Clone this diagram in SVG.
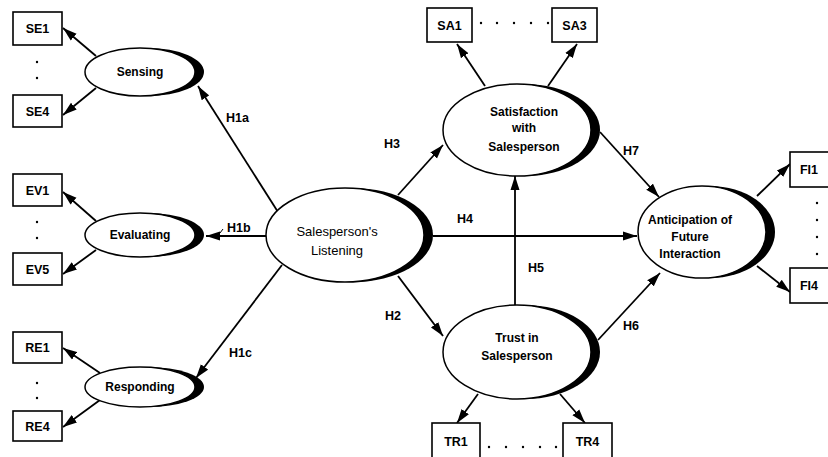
<svg xmlns="http://www.w3.org/2000/svg" width="828" height="457" viewBox="0 0 828 457">
<style>
  .bg { fill: #ffffff; }
  .box { fill: #ffffff; stroke: #000; stroke-width: 1.6; }
  .shadow { fill: #000; }
  .ell { fill: #ffffff; stroke: #000; stroke-width: 1.5; }
  .t { font-family: "Liberation Sans", Arial, sans-serif; font-size: 12px; font-weight: bold; fill: #000; text-anchor: middle; }
  .tl { font-family: "Liberation Sans", Arial, sans-serif; font-size: 13px; font-weight: normal; fill: #000; text-anchor: middle; }
  .bt { font-family: "Liberation Sans", Arial, sans-serif; font-size: 12.5px; font-weight: bold; fill: #000; text-anchor: middle; }
  .h { font-family: "Liberation Sans", Arial, sans-serif; font-size: 12.5px; font-weight: bold; fill: #000; }
  .c { stroke: #000; stroke-width: 1.8; fill: none; marker-end: url(#ah); }
  .dot { fill: #000; }
</style>
<defs>
  <marker id="ah" markerUnits="userSpaceOnUse" markerWidth="15" markerHeight="10" refX="14" refY="5" orient="auto">
    <path d="M0,0.5 L14,5 L0,9.5 Z" fill="#000"/>
  </marker>
</defs>
<rect class="bg" x="0" y="0" width="828" height="457"/>

<g id="connectors">
  <line class="c" x1="278" y1="212" x2="198" y2="86"/>
  <line class="c" x1="266" y1="236" x2="206" y2="236"/>
  <line class="c" x1="282" y1="265" x2="196" y2="378"/>
  <line class="c" x1="398" y1="195" x2="443" y2="145"/>
  <line class="c" x1="398" y1="276" x2="443" y2="336"/>
  <line class="c" x1="433" y1="236" x2="637" y2="236"/>
  <line class="c" x1="515" y1="305" x2="515" y2="176"/>
  <line class="c" x1="600" y1="132" x2="659" y2="197"/>
  <line class="c" x1="598" y1="340" x2="660" y2="273"/>
  <line class="c" x1="485" y1="86" x2="457" y2="44"/>
  <line class="c" x1="548" y1="86" x2="577" y2="44"/>
  <line class="c" x1="478" y1="394" x2="457" y2="423"/>
  <line class="c" x1="560" y1="394" x2="585" y2="423"/>
  <line class="c" x1="757" y1="196" x2="790" y2="164"/>
  <line class="c" x1="757" y1="266" x2="790" y2="292"/>
  <line class="c" x1="96" y1="56" x2="63" y2="28"/>
  <line class="c" x1="96" y1="88" x2="63" y2="115"/>
  <line class="c" x1="96" y1="221" x2="63" y2="192"/>
  <line class="c" x1="96" y1="250" x2="63" y2="274"/>
  <line class="c" x1="100" y1="373" x2="63" y2="348"/>
  <line class="c" x1="100" y1="400" x2="63" y2="427"/>
</g>

<g id="labels">
  <text class="h" x="226" y="122">H1a</text>
  <line x1="220" y1="233" x2="223" y2="229" stroke="#000" stroke-width="1"/>
  <text class="h" x="227" y="232">H1b</text>
  <text class="h" x="229" y="357">H1c</text>
  <text class="h" x="384" y="148">H3</text>
  <text class="h" x="457" y="223">H4</text>
  <text class="h" x="528" y="272">H5</text>
  <text class="h" x="385" y="320">H2</text>
  <text class="h" x="623" y="330">H6</text>
  <text class="h" x="623" y="155">H7</text>
</g>

<g id="SE1"><rect class="box" x="13" y="12" width="49" height="33"/><text class="bt" x="37.5" y="33">SE1</text></g>
<g id="SE4"><rect class="box" x="13" y="95" width="49" height="32"/><text class="bt" x="37.5" y="116">SE4</text></g>
<g id="SE-dots"><circle class="dot" cx="37" cy="62" r="1.2"/><circle class="dot" cx="37" cy="78" r="1.2"/></g>

<g id="EV1"><rect class="box" x="13" y="174" width="49" height="32"/><text class="bt" x="37.5" y="195">EV1</text></g>
<g id="EV5"><rect class="box" x="13" y="253" width="49" height="32"/><text class="bt" x="37.5" y="274">EV5</text></g>
<g id="EV-dots"><circle class="dot" cx="37" cy="222" r="1.2"/><circle class="dot" cx="37" cy="238" r="1.2"/></g>

<g id="RE1"><rect class="box" x="13" y="332" width="49" height="31"/><text class="bt" x="37.5" y="352">RE1</text></g>
<g id="RE4"><rect class="box" x="13" y="411" width="49" height="30"/><text class="bt" x="37.5" y="431">RE4</text></g>
<g id="RE-dots"><circle class="dot" cx="37" cy="383" r="1.2"/><circle class="dot" cx="37" cy="398" r="1.2"/></g>

<g id="Sensing">
  <ellipse class="shadow" cx="148" cy="72" rx="56" ry="24"/>
  <ellipse class="ell" cx="140" cy="72" rx="55" ry="24"/>
  <text class="t" x="140" y="76">Sensing</text>
</g>
<g id="Evaluating">
  <ellipse class="shadow" cx="148" cy="235" rx="56" ry="22"/>
  <ellipse class="ell" cx="140" cy="235" rx="55" ry="22"/>
  <text class="t" x="140" y="239">Evaluating</text>
</g>
<g id="Responding">
  <ellipse class="shadow" cx="148" cy="387" rx="56" ry="20"/>
  <ellipse class="ell" cx="140" cy="387" rx="55" ry="20"/>
  <text class="t" x="140" y="391">Responding</text>
</g>

<g id="Listening">
  <ellipse class="shadow" cx="353" cy="235" rx="80" ry="47"/>
  <ellipse class="ell" cx="345" cy="235" rx="79" ry="47"/>
  <text class="tl" x="337" y="236">Salesperson's</text>
  <text class="tl" x="337" y="255">Listening</text>
</g>

<g id="Satisfaction">
  <ellipse class="shadow" cx="525" cy="130" rx="75" ry="46"/>
  <ellipse class="ell" cx="517" cy="130" rx="74" ry="46"/>
  <text class="t" x="524" y="116">Satisfaction</text>
  <text class="t" x="524" y="132">with</text>
  <text class="t" x="524" y="151">Salesperson</text>
</g>
<g id="SA1"><rect class="box" x="427" y="8" width="45" height="34"/><text class="bt" x="449.5" y="30">SA1</text></g>
<g id="SA3"><rect class="box" x="552" y="8" width="45" height="34"/><text class="bt" x="574.5" y="30">SA3</text></g>
<g id="SA-dots"><circle class="dot" cx="481" cy="23" r="1.2"/><circle class="dot" cx="497" cy="23" r="1.2"/><circle class="dot" cx="514" cy="23" r="1.2"/><circle class="dot" cx="531" cy="23" r="1.2"/><circle class="dot" cx="548" cy="23" r="1.2"/></g>

<g id="Trust">
  <ellipse class="shadow" cx="525" cy="352" rx="75" ry="47"/>
  <ellipse class="ell" cx="517" cy="352" rx="74" ry="47"/>
  <text class="t" x="517" y="342">Trust in</text>
  <text class="t" x="517" y="360">Salesperson</text>
</g>
<g id="TR1"><rect class="box" x="432" y="423" width="48" height="40"/><text class="bt" x="456" y="446">TR1</text></g>
<g id="TR4"><rect class="box" x="563" y="423" width="49" height="40"/><text class="bt" x="587.5" y="446">TR4</text></g>
<g id="TR-dots"><circle class="dot" cx="489" cy="447" r="1.2"/><circle class="dot" cx="506" cy="447" r="1.2"/><circle class="dot" cx="523" cy="447" r="1.2"/><circle class="dot" cx="540" cy="447" r="1.2"/><circle class="dot" cx="556" cy="447" r="1.2"/></g>

<g id="Anticipation">
  <ellipse class="shadow" cx="710" cy="232" rx="65" ry="46"/>
  <ellipse class="ell" cx="702" cy="232" rx="64" ry="46"/>
  <text class="t" x="690" y="224">Anticipation of</text>
  <text class="t" x="690" y="241">Future</text>
  <text class="t" x="690" y="258">Interaction</text>
</g>
<g id="FI1"><rect class="box" x="790" y="152" width="45" height="35"/><text class="bt" x="809" y="174">FI1</text></g>
<g id="FI4"><rect class="box" x="790" y="268" width="45" height="35"/><text class="bt" x="809" y="290">FI4</text></g>
<g id="FI-dots"><circle class="dot" cx="817" cy="203" r="1.2"/><circle class="dot" cx="817" cy="220" r="1.2"/><circle class="dot" cx="817" cy="237" r="1.2"/><circle class="dot" cx="817" cy="254" r="1.2"/></g>
</svg>
